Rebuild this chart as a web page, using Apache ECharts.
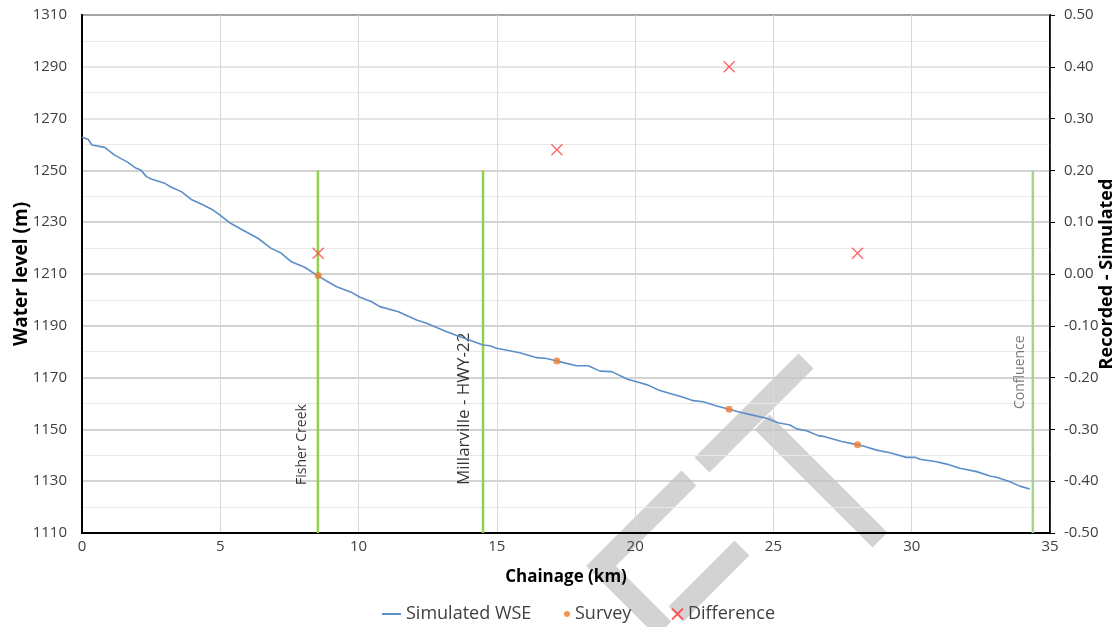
<!DOCTYPE html>
<html>
<head>
<meta charset="utf-8">
<script src="https://cdn.jsdelivr.net/npm/echarts@6/dist/echarts.min.js"></script>
<style>
  html, body { margin: 0; padding: 0; background: #fff; }
  #chart { width: 1120px; height: 627px; }
</style>
</head>
<body>
<div id="chart"></div>
<script>
// Simulated water surface profile along the reach
const chainageKm = [0, 0.22, 0.36, 0.82, 1.18, 1.66, 1.96, 2.12, 2.33, 2.5, 2.99, 3.23, 3.59, 3.95, 4.31, 4.74, 4.98, 5.34, 5.76, 6.36, 6.84, 7.21, 7.57, 8.05, 8.53, 8.89, 9.21, 9.75, 10.05, 10.47, 10.77, 11.44, 12.1, 12.46, 13.12, 13.67, 14.15, 14.5, 14.75, 14.99, 15.83, 16.44, 16.8, 17.17, 17.52, 17.88, 18.3, 18.73, 19.15, 19.75, 20.05, 20.47, 20.84, 21.26, 21.74, 22.1, 22.46, 22.95, 23.4, 23.79, 24.21, 24.75, 25.17, 25.6, 25.84, 26.2, 26.62, 26.86, 27.47, 27.89, 28.25, 28.73, 29.21, 29.81, 30.12, 30.3, 30.9, 31.26, 31.74, 32.35, 32.83, 33.07, 33.55, 33.91, 34.27];
const simulatedWse = [1262.8, 1262.0, 1259.8, 1258.9, 1255.9, 1253.1, 1250.8, 1250.2, 1247.6, 1246.7, 1245.0, 1243.5, 1241.8, 1238.8, 1237.0, 1234.7, 1232.8, 1229.8, 1227.3, 1223.8, 1219.9, 1218.0, 1214.7, 1212.6, 1209.3, 1207.0, 1205.1, 1202.9, 1201.0, 1199.3, 1197.4, 1195.4, 1192.2, 1191.0, 1188.0, 1185.8, 1183.9, 1182.6, 1182.3, 1181.3, 1179.6, 1177.7, 1177.4, 1176.4, 1175.5, 1174.6, 1174.6, 1172.5, 1172.3, 1169.3, 1168.4, 1167.1, 1165.2, 1163.9, 1162.4, 1161.1, 1160.7, 1159.0, 1157.8, 1156.6, 1155.6, 1154.3, 1152.6, 1151.7, 1150.2, 1149.5, 1147.6, 1147.2, 1145.3, 1144.4, 1143.6, 1142.0, 1141.0, 1139.2, 1139.2, 1138.5, 1137.5, 1136.6, 1135.0, 1133.7, 1132.0, 1131.5, 1129.8, 1128.1, 1127.0];

// Surveyed water levels and recorded minus simulated differences
const surveyKm = [8.54, 17.17, 23.4, 28.04];
const surveyWse = [1209.4, 1176.4, 1157.8, 1144.1];
const differenceM = [0.04, 0.24, 0.40, 0.04];

// Reach landmarks drawn as vertical lines
const landmarkNames = ['Fisher Creek', 'Millarville - HWY-22', 'Confluence'];
const landmarkKm = [8.53, 14.5, 34.38];
const landmarkTop = 1250;

// Axis ranges
const xTicks = { min: 0, max: 35, step: 5 };
const yLeft = { min: 1110, max: 1310, step: 20 };
const yRight = { min: -0.5, max: 0.5, step: 0.1 };

const FONT = '"Open Sans", "Noto Sans", sans-serif';
const TICK_COLOR = '#404040';

const landmarkStyle = [
  { color: '#92d050', fontSize: 14, textColor: '#000', lift: 48, gap: 9 },
  { color: '#92d050', fontSize: 17, textColor: '#000', lift: 48, gap: 10 },
  { color: '#a9d18e', fontSize: 14, textColor: '#595959', lift: 124, gap: 6 }
];

const landmarkSeries = landmarkKm.map((km, i) => ({
  type: 'line',
  name: landmarkNames[i],
  data: [[km, yLeft.min], [km, landmarkTop]],
  symbol: 'none',
  silent: true,
  z: 3,
  lineStyle: { color: landmarkStyle[i].color, width: 2.5 }
}));

const landmarkLabels = {
  type: 'scatter',
  name: 'landmark labels',
  silent: true,
  symbolSize: 1,
  itemStyle: { color: 'transparent' },
  z: 4,
  data: landmarkKm.map((km, i) => ({
    value: [km, yLeft.min],
    label: {
      show: true,
      formatter: landmarkNames[i],
      position: 'inside',
      rotate: 90,
      align: 'left',
      verticalAlign: 'bottom',
      padding: [0, 0, landmarkStyle[i].gap, landmarkStyle[i].lift],
      fontFamily: FONT,
      fontSize: landmarkStyle[i].fontSize,
      color: landmarkStyle[i].textColor
    }
  }))
};

// left axis major gridlines: lines from 1250 down are drawn darker
const majorCount = (yLeft.max - yLeft.min) / yLeft.step + 1;
const majorColors = [];
for (let i = 0; i < majorCount; i++) {
  majorColors.push(yLeft.min + i * yLeft.step <= landmarkTop ? '#c4c4c4' : '#dcdcdc');
}

const chart = echarts.init(document.getElementById('chart'), null, { renderer: 'canvas' });

const stroke = { stroke: '#d3d3d3', lineWidth: 21, lineCap: 'butt' };
const legendText = { fontFamily: FONT, fontSize: 18, color: TICK_COLOR };

chart.setOption({
  animation: false,
  backgroundColor: '#fff',
  textStyle: { fontFamily: FONT },
  grid: {
    left: 82, right: 70, top: 15, bottom: 94,
    containLabel: false,
    outerBoundsMode: 'none',
    show: true, borderColor: '#000', borderWidth: 2, backgroundColor: 'transparent'
  },
  legend: [
    {
      data: [{ name: 'Simulated WSE' }],
      left: 381, top: 605, padding: 0, itemWidth: 19, itemHeight: 2,
      textStyle: legendText
    },
    {
      data: [{ name: 'Survey', icon: 'circle' }],
      left: 564, top: 605, padding: 0, itemWidth: 6, itemHeight: 6,
      textStyle: legendText
    },
    {
      data: [{ name: 'Difference' }],
      left: 671, top: 605, padding: 0, itemWidth: 11, itemHeight: 11,
      textStyle: legendText
    }
  ],
  xAxis: {
    type: 'value',
    min: xTicks.min, max: xTicks.max, interval: xTicks.step,
    name: 'Chainage (km)',
    nameLocation: 'middle',
    nameGap: 36,
    nameMoveOverlap: false,
    nameTextStyle: { fontFamily: FONT, fontSize: 17, fontWeight: 'bold', color: '#000' },
    axisLine: { show: true, onZero: false, lineStyle: { color: '#000', width: 2 } },
    axisTick: { show: false },
    axisLabel: { margin: 6, fontFamily: FONT, fontSize: 15, color: TICK_COLOR },
    splitLine: { show: true, lineStyle: { color: '#d9d9d9', width: 1 } }
  },
  yAxis: [
    {
      type: 'value',
      min: yLeft.min, max: yLeft.max, interval: yLeft.step,
      name: 'Water level (m)',
      nameLocation: 'middle',
      nameGap: 51,
      nameMoveOverlap: false,
      nameTextStyle: { fontFamily: FONT, fontSize: 19, fontWeight: 'bold', color: '#000' },
      axisLine: { show: true, lineStyle: { color: '#000', width: 2 } },
      axisTick: { show: false },
      axisLabel: { margin: 15, fontFamily: FONT, fontSize: 15, color: TICK_COLOR, formatter: v => String(v) },
      splitLine: { show: true, lineStyle: { color: majorColors, width: 1.5 } },
      minorTick: { show: false, splitNumber: 2 },
      minorSplitLine: { show: true, lineStyle: { color: '#e8e8e8', width: 1 } }
    },
    {
      type: 'value',
      min: yRight.min, max: yRight.max, interval: yRight.step,
      position: 'right',
      name: 'Recorded - Simulated',
      nameLocation: 'middle',
      nameGap: 48,
      nameRotate: 90,
      nameMoveOverlap: false,
      nameTextStyle: { fontFamily: FONT, fontSize: 18, fontWeight: 'bold', color: '#000' },
      axisLine: { show: true, lineStyle: { color: '#000', width: 1.5 } },
      axisTick: { show: true, inside: false, length: 5, lineStyle: { color: '#000' } },
      axisLabel: {
        margin: 14, fontFamily: FONT, fontSize: 15, color: TICK_COLOR,
        formatter: v => v.toFixed(2)
      },
      splitLine: { show: false }
    }
  ],
  graphic: [
    { type: 'polyline', z: -1, silent: true, shape: { points: [[806, 361], [702, 465]] }, style: stroke },
    { type: 'polyline', z: -1, silent: true, shape: { points: [[762, 422], [880, 540]] }, style: stroke },
    { type: 'polyline', z: -1, silent: true, shape: { points: [[689, 478], [601, 566], [664, 629]] }, style: stroke },
    { type: 'polyline', z: -1, silent: true, shape: { points: [[742, 548], [676, 614]] }, style: stroke }
  ],
  series: [
    ...landmarkSeries,
    landmarkLabels,
    {
      type: 'line',
      name: 'Simulated WSE',
      data: chainageKm.map((k, i) => [k, simulatedWse[i]]),
      symbol: 'none',
      z: 5,
      color: '#5b8fc8',
      lineStyle: { color: '#5b8fc8', width: 1.6 }
    },
    {
      type: 'scatter',
      name: 'Survey',
      data: surveyKm.map((k, i) => [k, surveyWse[i]]),
      symbol: 'circle',
      symbolSize: 7,
      z: 6,
      itemStyle: { color: '#ed7d31' }
    },
    {
      type: 'scatter',
      name: 'Difference',
      yAxisIndex: 1,
      data: surveyKm.map((k, i) => [k, differenceM[i]]),
      symbol: 'path://M0,0L10,10M10,0L0,10',
      symbolSize: 11,
      z: 6,
      itemStyle: { color: 'transparent', borderColor: '#ff3b3b', borderWidth: 1.3 }
    }
  ]
});
</script>
</body>
</html>
